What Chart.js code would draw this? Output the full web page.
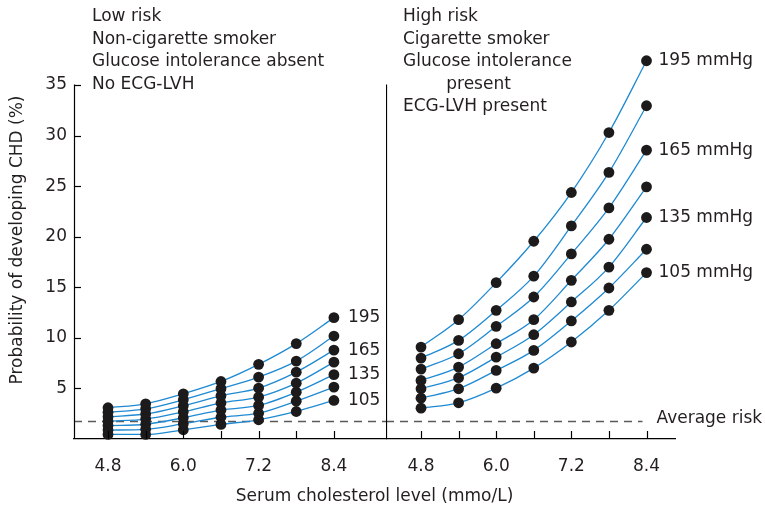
<!DOCTYPE html>
<html><head><meta charset="utf-8">
<script src="https://cdn.jsdelivr.net/npm/chart.js@4/dist/chart.umd.min.js"></script>
<style>
html,body{margin:0;padding:0;background:#fff;}
#wrap{position:relative;width:765px;height:508px;overflow:hidden;}
#cL{position:absolute;left:0;top:0;}
#cR{position:absolute;left:386px;top:0;}
</style></head><body>
<div id="wrap"><canvas id="cL" width="765" height="508"></canvas><canvas id="cR" width="379" height="508"></canvas></div>
<script>
// ---- data ----
const cholesterol = [4.8, 5.4, 6.0, 6.6, 7.2, 7.8, 8.4];
const xTickLabels = ['4.8', '6.0', '7.2', '8.4'];
const yTicks = [5, 10, 15, 20, 25, 30, 35];
const systolicBP = [195, 180, 165, 150, 135, 120, 105];
const averageRisk = 1.8;

// Low risk panel (% probability), one array per systolic BP
const low195 = [3.09, 3.48, 4.47, 5.69, 7.38, 9.43, 12.0];
const low180 = [2.64, 2.98, 3.88, 4.98, 6.12, 7.70, 10.18];
const low165 = [2.20, 2.47, 3.29, 4.27, 5.03, 6.61, 8.79];
const low150 = [1.76, 1.97, 2.69, 3.56, 4.14, 5.52, 7.60];
const low135 = [1.33, 1.46, 2.10, 2.86, 3.32, 4.63, 6.36];
const low120 = [0.88, 0.96, 1.51, 2.15, 2.55, 3.74, 5.13];
const low105 = [0.45, 0.45, 0.91, 1.44, 1.90, 2.72, 3.81];

// High risk panel
const high195 = [9.09, 11.8, 15.46, 19.55, 24.37, 30.3, 37.4];
const high180 = [8.00, 9.75, 12.72, 16.10, 21.07, 26.36, 32.95];
const high165 = [6.91, 8.43, 11.14, 14.04, 18.30, 22.85, 28.56];
const high150 = [5.79, 7.11, 9.42, 11.80, 15.69, 19.75, 24.93];
const high135 = [4.97, 6.06, 8.10, 10.31, 13.55, 17.00, 21.90];
const high120 = [4.04, 4.97, 6.78, 8.76, 11.67, 14.93, 18.76];
const high105 = [3.05, 3.58, 5.03, 7.01, 9.59, 12.72, 16.45];

const lowPanelText = ['Low risk', 'Non-cigarette smoker', 'Glucose intolerance absent', 'No ECG-LVH'];
const highPanelText = ['High risk', 'Cigarette smoker', 'Glucose intolerance', '        present', 'ECG-LVH present'];
const lowCurveLabels = {195: '195', 165: '165', 135: '135', 105: '105'};
const highCurveLabels = {195: '195 mmHg', 165: '165 mmHg', 135: '135 mmHg', 105: '105 mmHg'};
const yTitle = 'Probability of developing CHD (%)';
const xTitle = 'Serum cholesterol level (mmo/L)';
const avgLabel = 'Average risk';

// ---- styles ----
const FONT = '"DejaVu Sans", sans-serif';
const FSIZE = 17;
const TXT = '#231f20';
const LINE = '#1f8ad2';
const DOT = '#1c1a1b';
const RIGHT_PAD = 90;
const Y_MAX_VIEW = 38;   // room above the 35 tick for the top marker
const TOP_PAD = 54.66;

function buildDatasets(series) {
  const ds = [];
  series.forEach(vals => {
    ds.push({
      data: cholesterol.map((x, i) => ({x, y: vals[i]})),
      borderColor: LINE, borderWidth: 1.3, pointRadius: 0, clip: false,
      cubicInterpolationMode: 'monotone', fill: false, order: 2
    });
  });
  series.forEach(vals => {
    ds.push({
      data: cholesterol.map((x, i) => ({x, y: vals[i]})),
      showLine: false, pointRadius: 5.4, pointBackgroundColor: DOT, clip: false,
      pointBorderWidth: 0, borderColor: DOT, order: 1
    });
  });
  return ds;
}

function xScaleOpts(min, max) {
  return {
    type: 'linear', min, max,
    afterBuildTicks: s => { s.ticks = cholesterol.map(v => ({value: v})); },
    afterFit: s => { s.height = 69; s.paddingLeft = 0; s.paddingRight = 0; },
    grid: {display: true, drawOnChartArea: false, drawTicks: false},
    border: {display: true, color: '#000', width: 1.2},
    ticks: {
      autoSkip: false, maxRotation: 0, padding: 17, color: TXT,
      font: {family: FONT, size: FSIZE},
      callback: v => { const t = Number(v).toFixed(1); return xTickLabels.includes(t) ? t : ''; }
    }
  };
}

function inwardXTicks(chart) {
  const {ctx, chartArea, scales: {x}} = chart;
  ctx.save(); ctx.strokeStyle = '#000'; ctx.lineWidth = 1.2;
  cholesterol.forEach(v => {
    const px = Math.round(x.getPixelForValue(v)) + 0.5;
    ctx.beginPath(); ctx.moveTo(px, chartArea.bottom); ctx.lineTo(px, chartArea.bottom - 8); ctx.stroke();
  });
  ctx.restore();
}

function verticalAxisLine(chart) {
  const {ctx, chartArea, scales: {y}} = chart;
  ctx.save(); ctx.strokeStyle = '#000'; ctx.lineWidth = 1.2;
  const px = Math.round(chartArea.left) + 0.5;
  ctx.beginPath(); ctx.moveTo(px, y.getPixelForValue(yTicks[yTicks.length - 1]) - 0.5); ctx.lineTo(px, chartArea.bottom); ctx.stroke();
  ctx.restore();
}

function drawAvgLine(chart, x0, x1) {
  const {ctx, scales: {y}} = chart;
  const py = Math.round(y.getPixelForValue(averageRisk)) + 0.5;
  ctx.save(); ctx.strokeStyle = '#5a5a5a'; ctx.lineWidth = 1.5; ctx.setLineDash([8, 6]);
  ctx.beginPath(); ctx.moveTo(x0, py); ctx.lineTo(x1, py); ctx.stroke();
  ctx.restore();
}

function drawCurveLabels(chart, labels, dx) {
  const {ctx} = chart;
  ctx.save(); ctx.fillStyle = TXT; ctx.font = FSIZE + 'px ' + FONT; ctx.textBaseline = 'middle'; ctx.textAlign = 'left';
  systolicBP.forEach((bp, i) => {
    if (!labels[bp]) return;
    const meta = chart.getDatasetMeta(systolicBP.length + i);
    const pt = meta.data[meta.data.length - 1];
    ctx.fillText(labels[bp], pt.x + dx, pt.y);
  });
  ctx.restore();
}

function drawLines(chart, lines, x, y0, step) {
  const {ctx} = chart;
  ctx.save(); ctx.fillStyle = TXT; ctx.font = FSIZE + 'px ' + FONT; ctx.textBaseline = 'middle'; ctx.textAlign = 'left';
  lines.forEach((t, i) => ctx.fillText(t, x, y0 + i * step));
  ctx.restore();
}

const leftPlugin = {
  id: 'leftDeco',
  beforeDatasetsDraw(chart) {
    const {chartArea} = chart;
    drawAvgLine(chart, chartArea.left, chartArea.right);
  },
  afterDatasetsDraw(chart) {
    const {ctx, chartArea, scales: {y}} = chart;
    inwardXTicks(chart);
    verticalAxisLine(chart);
    ctx.save(); ctx.strokeStyle = '#000'; ctx.lineWidth = 1.2;
    yTicks.forEach(v => {
      const py = Math.round(y.getPixelForValue(v)) + 0.5;
      ctx.beginPath(); ctx.moveTo(chartArea.left, py); ctx.lineTo(chartArea.left + 7, py); ctx.stroke();
    });
    ctx.restore();
    drawCurveLabels(chart, lowCurveLabels, 14);
    drawLines(chart, lowPanelText, chartArea.left + 18, 17, 22.5);
    // axis titles
    ctx.save(); ctx.fillStyle = TXT; ctx.font = FSIZE + 'px ' + FONT; ctx.textAlign = 'center'; ctx.textBaseline = 'middle';
    ctx.fillText(xTitle, (chartArea.left + chart.width - RIGHT_PAD) / 2, 497);
    ctx.translate(18, 240); ctx.rotate(-Math.PI / 2);
    ctx.fillText(yTitle, 0, 0);
    ctx.restore();
  }
};

const rightPlugin = {
  id: 'rightDeco',
  beforeDatasetsDraw(chart) {
    const {chartArea, scales: {x}} = chart;
    drawAvgLine(chart, chartArea.left, x.getPixelForValue(cholesterol[cholesterol.length - 1]) - 4);
  },
  afterDatasetsDraw(chart) {
    const {ctx, chartArea, scales: {x, y}} = chart;
    inwardXTicks(chart);
    verticalAxisLine(chart);
    drawCurveLabels(chart, highCurveLabels, 12);
    drawLines(chart, highPanelText, chartArea.left + 17, 17, 22.5);
    ctx.save(); ctx.fillStyle = TXT; ctx.font = FSIZE + 'px ' + FONT; ctx.textBaseline = 'middle';
    ctx.fillText(avgLabel, x.getPixelForValue(cholesterol[cholesterol.length - 1]) + 10, y.getPixelForValue(averageRisk) - 2);
    ctx.restore();
  }
};

const common = {
  responsive: false, animation: false, devicePixelRatio: 1,
  plugins: {legend: {display: false}, tooltip: {enabled: false}},
};

new Chart(document.getElementById('cL'), {
  type: 'line',
  data: {datasets: buildDatasets([low195, low180, low165, low150, low135, low120, low105])},
  options: Object.assign({}, common, {
    layout: {autoPadding: false, padding: {left: 0, top: TOP_PAD, right: 379, bottom: 0}},
    scales: {
      x: xScaleOpts(4.258, 9.23),
      y: {
        min: 0, max: Y_MAX_VIEW,
        afterBuildTicks: s => { s.ticks = yTicks.map(v => ({value: v})); },
        afterFit: s => { s.width = 74; },
        grid: {display: true, drawOnChartArea: false, drawTicks: false},
        border: {display: false},
        ticks: {padding: 7, color: TXT, font: {family: FONT, size: FSIZE}}
      }
    }
  }),
  plugins: [leftPlugin]
});

new Chart(document.getElementById('cR'), {
  type: 'line',
  data: {datasets: buildDatasets([high195, high180, high165, high150, high135, high120, high105])},
  options: Object.assign({}, common, {
    layout: {autoPadding: false, padding: {left: 0, top: TOP_PAD, right: RIGHT_PAD, bottom: 0}},
    scales: {
      x: xScaleOpts(4.241, 8.855),
      y: {display: false, min: 0, max: Y_MAX_VIEW}
    }
  }),
  plugins: [rightPlugin]
});
</script>
</body></html>
